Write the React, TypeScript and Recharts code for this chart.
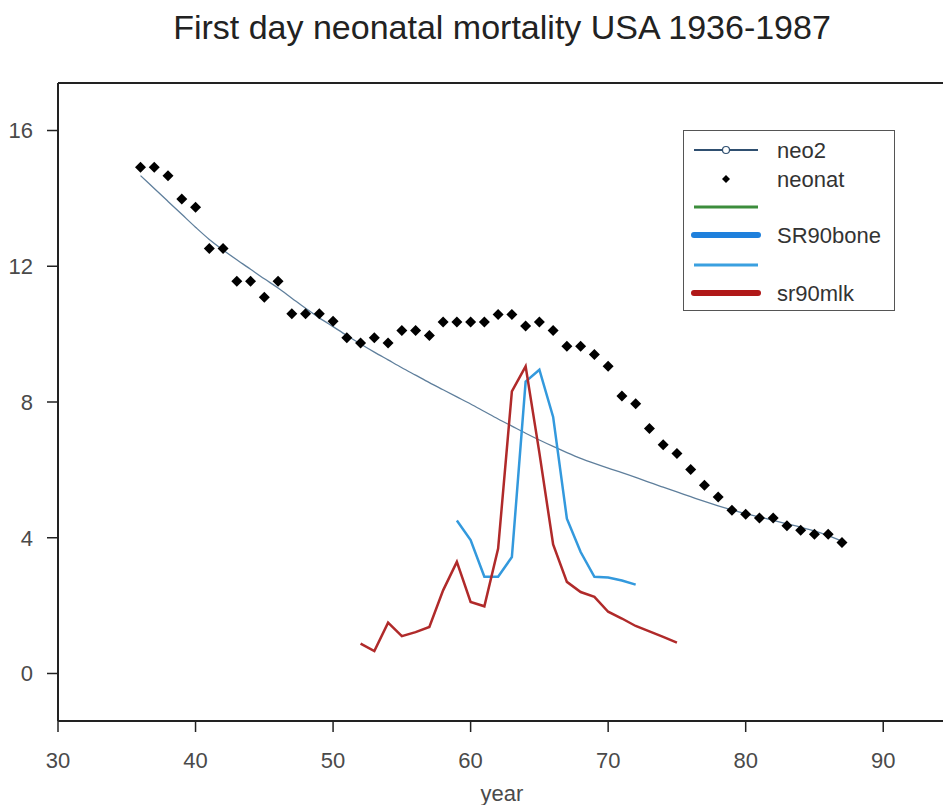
import { ComposedChart, Line, ReferenceLine, XAxis, YAxis } from 'recharts';

// year axis is 19xx shortened to two digits, as in the original plot
const YEARS = [
  36, 37, 38, 39, 40, 41, 42, 43, 44, 45, 46, 47, 48, 49, 50, 51, 52, 53, 54, 55, 56, 57, 58, 59, 60, 61,
  62, 63, 64, 65, 66, 67, 68, 69, 70, 71, 72, 73, 74, 75, 76, 77, 78, 79, 80, 81, 82, 83, 84, 85, 86, 87,
];

// fitted curve
const NEO2 = [
  14.67, 14.29, 13.91, 13.53, 13.15, 12.79, 12.48, 12.19, 11.91, 11.63, 11.36, 11.06, 10.76, 10.48, 10.22,
  9.96, 9.71, 9.47, 9.24, 9.01, 8.79, 8.57, 8.36, 8.15, 7.94, 7.72, 7.5, 7.29, 7.08, 6.88, 6.69, 6.51, 6.34,
  6.19, 6.05, 5.92, 5.78, 5.63, 5.49, 5.35, 5.21, 5.07, 4.94, 4.82, 4.71, 4.61, 4.51, 4.41, 4.31, 4.2, 4.06,
  3.9,
];

// observed first day mortality
const NEONAT = [
  14.92, 14.92, 14.67, 13.98, 13.74, 12.52, 12.52, 11.56, 11.56, 11.09, 11.56, 10.6, 10.6, 10.6, 10.38, 9.89,
  9.74, 9.89, 9.74, 10.11, 10.11, 9.96, 10.36, 10.36, 10.36, 10.36, 10.58, 10.58, 10.24, 10.36, 10.11, 9.64,
  9.64, 9.4, 9.05, 8.18, 7.95, 7.22, 6.74, 6.48, 6.01, 5.55, 5.2, 4.81, 4.69, 4.58, 4.58, 4.35, 4.22, 4.1,
  4.1, 3.86,
];

const BONE_START = 59;
const BONE = [4.51, 3.93, 2.85, 2.85, 3.43, 8.6, 8.95, 7.56, 4.56, 3.58, 2.85, 2.83, 2.74, 2.62];

const MLK_START = 52;
const MLK = [
  0.88, 0.66, 1.5, 1.1, 1.22, 1.37, 2.45, 3.29, 2.11, 1.98, 3.68, 8.31, 9.05, 6.5, 3.8, 2.7, 2.4, 2.26, 1.82,
  1.62, 1.4, 1.24, 1.08, 0.91,
];

const X_TICKS = [30, 40, 50, 60, 70, 80, 90];
const Y_TICKS = [0, 4, 8, 12, 16];
const LEGEND_LABELS = ['neo2', 'neonat', '', 'SR90bone', '', 'sr90mlk'];

const FONT = '"Liberation Sans", Arial, sans-serif';
const AXIS_COLOR = '#222';
const TICK_STYLE = { fill: '#4a4a4a', fontSize: 22, fontFamily: FONT };

const rows = YEARS.map((year, i) => ({
  year,
  neo2: NEO2[i],
  neonat: NEONAT[i],
  bone: BONE[year - BONE_START] ?? null,
  mlk: MLK[year - MLK_START] ?? null,
}));

function Diamond(props: { cx?: number; cy?: number; index?: number }) {
  const { cx, cy, index } = props;
  if (cx == null || cy == null) return <g key={`d-${index}`} />;
  const r = 5.5;
  return (
    <path
      key={`d-${index}`}
      d={`M${cx},${cy - r} L${cx + r},${cy} L${cx},${cy + r} L${cx - r},${cy} Z`}
      fill="#000"
    />
  );
}

// sample swatches for the legend rows, in the same order as LEGEND_LABELS
const SWATCHES = [
  { kind: 'lineCircle', color: '#2f4f70', width: 2 },
  { kind: 'diamond', color: '#000', width: 0 },
  { kind: 'line', color: '#3c8d3c', width: 3 },
  { kind: 'line', color: '#1f80dc', width: 6 },
  { kind: 'line', color: '#3aa0e0', width: 3 },
  { kind: 'line', color: '#b01818', width: 6 },
];

function LegendBox() {
  const rowY = [19, 48, 76, 104, 134, 162];
  return (
    <div
      style={{
        position: 'absolute',
        left: 683,
        top: 130,
        width: 210,
        height: 179,
        border: '1.5px solid #555',
        background: '#fff',
      }}
    >
      <svg width={210} height={179} style={{ display: 'block' }}>
        {LEGEND_LABELS.map((label, i) => {
          const s = SWATCHES[i];
          const y = rowY[i];
          return (
            <g key={i}>
              {s.kind === 'diamond' ? (
                <path d={`M42,${y - 4} L46,${y} L42,${y + 4} L38,${y} Z`} fill={s.color} />
              ) : (
                <line
                  x1={10}
                  x2={74}
                  y1={y}
                  y2={y}
                  stroke={s.color}
                  strokeWidth={s.width}
                  strokeLinecap={s.width > 4 ? 'round' : 'butt'}
                />
              )}
              {s.kind === 'lineCircle' && (
                <circle cx={42} cy={y} r={3.5} fill="#fff" stroke={s.color} strokeWidth={1.2} />
              )}
              {label && (
                <text x={93} y={y} dy="0.35em" fontSize={22} fontFamily={FONT} fill="#333">
                  {label}
                </text>
              )}
            </g>
          );
        })}
      </svg>
    </div>
  );
}

export default function App() {
  return (
    <div
      style={{
        position: 'absolute',
        left: 0,
        top: 0,
        width: 943,
        height: 805,
        overflow: 'hidden',
        background: '#fff',
        fontFamily: FONT,
      }}
    >
      <div
        style={{
          position: 'absolute',
          left: 502,
          top: 10,
          transform: 'translateX(-50%)',
          whiteSpace: 'nowrap',
          fontSize: 34,
          lineHeight: '34px',
          color: '#222',
        }}
      >
        First day neonatal mortality USA 1936-1987
      </div>
      <ComposedChart width={952} height={805} data={rows} margin={{ top: 83, right: 0, bottom: 0, left: 0 }}>
        <XAxis
          dataKey="year"
          type="number"
          domain={[30, 95]}
          ticks={X_TICKS}
          allowDataOverflow
          height={84}
          tickSize={11}
          tickMargin={20}
          axisLine={{ stroke: AXIS_COLOR, strokeWidth: 2 }}
          tickLine={{ stroke: AXIS_COLOR, strokeWidth: 1.5 }}
          tick={TICK_STYLE}
          label={{ value: 'year', position: 'insideBottom', offset: 4, dx: -3, ...TICK_STYLE }}
        />
        <YAxis
          type="number"
          domain={[-1.4, 17.4]}
          ticks={Y_TICKS}
          allowDataOverflow
          width={58}
          tickSize={11}
          tickMargin={14}
          axisLine={{ stroke: AXIS_COLOR, strokeWidth: 2 }}
          tickLine={{ stroke: AXIS_COLOR, strokeWidth: 1.5 }}
          tick={TICK_STYLE}
        />
        <ReferenceLine y={17.4} stroke={AXIS_COLOR} strokeWidth={2} />
        <Line
          dataKey="neonat"
          stroke="none"
          strokeWidth={0}
          dot={(p: any) => <Diamond {...p} />}
          activeDot={false}
          isAnimationActive={false}
        />
        <Line
          dataKey="neo2"
          type="monotone"
          stroke="#5f7f9c"
          strokeWidth={1.3}
          dot={false}
          activeDot={false}
          isAnimationActive={false}
        />
        <Line
          dataKey="bone"
          stroke="#3399dd"
          strokeWidth={2.5}
          dot={false}
          activeDot={false}
          isAnimationActive={false}
        />
        <Line
          dataKey="mlk"
          stroke="#b02a2a"
          strokeWidth={2.5}
          dot={false}
          activeDot={false}
          isAnimationActive={false}
        />
      </ComposedChart>
      <LegendBox />
    </div>
  );
}
